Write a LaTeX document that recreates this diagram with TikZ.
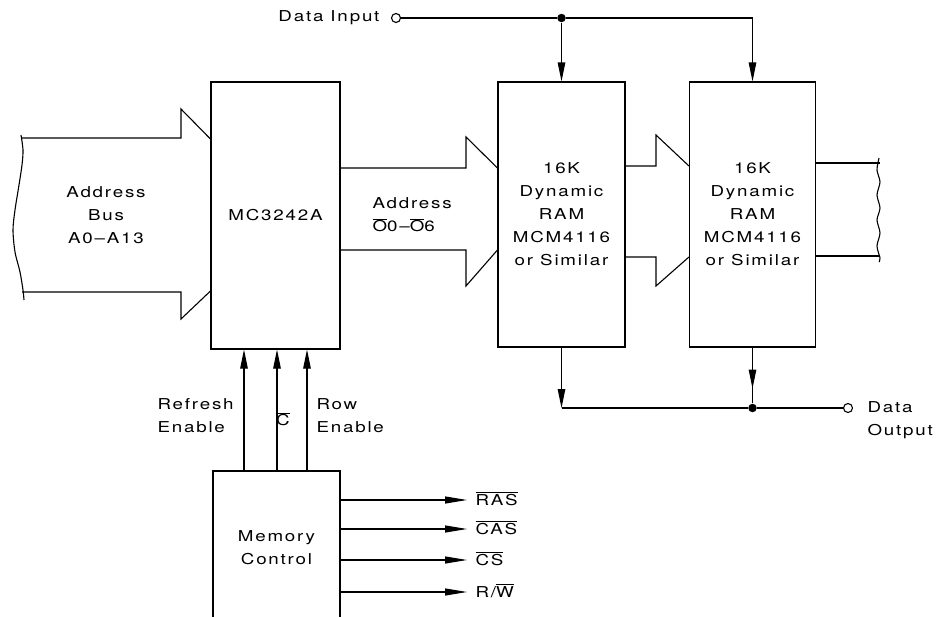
\documentclass[tikz,border=0pt]{standalone}
\usepackage{fontspec}
\setmainfont{TeX Gyre Heros}[FakeStretch=1.25,LetterSpace=12]
\usetikzlibrary{arrows.meta,calc}
\newcommand\ovl[1]{\ensuremath{\overline{\mbox{#1}}}}
\begin{document}
\begin{tikzpicture}[x=1pt,y=-1pt,line width=1.1pt,
  every node/.style={inner sep=0pt,font=\fontsize{15}{23}\selectfont},
  box/.style={draw,align=center},
  arr/.style={-{Triangle[length=19pt,width=7.5pt]}},
  oarr/.style={-{Triangle[length=22pt,width=7pt]}},
  dotnode/.style={circle,fill,minimum size=8.5pt},
  opennode/.style={circle,draw,fill=white,minimum size=9pt}]
\clip (0,0) rectangle (939,616);
% boxes
\node[box,minimum width=129pt,minimum height=267pt] (mc) at (275.5,215.5) {MC3242A};
\node[box,minimum width=127pt,minimum height=265pt] (ramA) at (561.5,214.5) {16K\\Dynamic\\RAM\\MCM4116\\or Similar};
\node[box,minimum width=126pt,minimum height=265pt] (ramB) at (752.5,214.5) {16K\\Dynamic\\RAM\\MCM4116\\or Similar};
\node[box,minimum width=127pt,minimum height=154pt] (memctl) at (276.5,548) {Memory\\Control};
% address bus A0-A13
\draw plot[smooth] coordinates {(21,135) (23,150) (22,165) (19,185) (15,210) (13,230) (15,252) (20,272) (23,290) (24,300)};
\draw (22,138) -- (181,138) -- (181,109) -- (mc.west |- 0,139);
\draw (22,292) -- (181,292) -- (181,319) -- (mc.west |- 0,291);
\node[align=center] (abus) at (106,215) {Address\\Bus\\A0–A13};
% address O0-O6
\draw (mc.east |- 0,168) -- (466,168) -- (466,137) -- (ramA.west |- 0,168);
\draw (mc.east |- 0,250) -- (466,250) -- (466,286) -- (ramA.west |- 0,250);
\node[anchor=west,align=left] (oaddr) at (372,215) {Address\\\ovl{O}0–\ovl{O}6};
% RAM to RAM
\draw (ramA.east |- 0,166) -- (656,166) -- (656,135) -- (ramB.west |- 0,166);
\draw (ramA.east |- 0,257) -- (656,257) -- (656,286) -- (ramB.west |- 0,257);
% right bus
\draw (ramB.east |- 0,163) -- (880,163);
\draw (ramB.east |- 0,256) -- (880,256);
\draw plot[smooth] coordinates {(879,158) (877,170) (880,182) (877,195) (880,208) (877,220) (880,233) (877,246) (880,258) (879,262)};
% data input
\node[anchor=east] (din) at (380,18) {Data Input};
\node[opennode] (cin) at (396,18) {};
\node[dotnode] (j1) at (ramA.north |- cin) {};
\coordinate (c2) at (ramB.north |- cin);
\draw (cin) -- (j1) -- (c2);
\draw[arr] (j1) -- (ramA.north);
\draw[arr] (c2) -- (ramB.north);
% data output
\coordinate (yout) at (0,408);
\coordinate (c3) at (ramA.south |- yout);
\node[dotnode] (j2) at (ramB.south |- yout) {};
\node[opennode] (cout) at (848,408) {};
\draw[arr] (ramA.south) -- (c3);
\draw (c3) -- (j2) -- (cout);
\draw (ramB.south) -- (j2);
\draw[arr] (ramB.south) -- ($(ramB.south)+(0,41)$);
\node[anchor=west,align=left] (dout) at (867,420) {Data\\Output};
% control inputs to MC3242A
\coordinate (xa) at (244,0);
\coordinate (xb) at (277,0);
\coordinate (xc) at (307,0);
\draw[arr] (memctl.north -| xa) -- (mc.south -| xa);
\draw[arr] (memctl.north -| xb) -- (mc.south -| xb);
\draw[arr] (memctl.north -| xc) -- (mc.south -| xc);
\node[anchor=west,align=left] (lref) at (157,416) {Refresh\\Enable};
\node (lc) at (283,419) {\ovl{C}};
\node[anchor=west,align=left] (lrow) at (316,416) {Row\\Enable};
% memory control outputs
\coordinate (t1) at (467,500);
\coordinate (t2) at (467,529);
\coordinate (t3) at (467,560);
\coordinate (t4) at (467,592);
\draw[oarr] (memctl.east |- t1) -- (t1);
\draw[oarr] (memctl.east |- t2) -- (t2);
\draw[oarr] (memctl.east |- t3) -- (t3);
\draw[oarr] (memctl.east |- t4) -- (t4);
\node[anchor=base west] (o1) at (475,505) {\ovl{RAS}};
\node[anchor=base west] (o2) at (475,534) {\ovl{CAS}};
\node[anchor=base west] (o3) at (475,565) {\ovl{CS}};
\node[anchor=base west] (o4) at (475,597) {R/\ovl{W}};
\end{tikzpicture}
\end{document}
